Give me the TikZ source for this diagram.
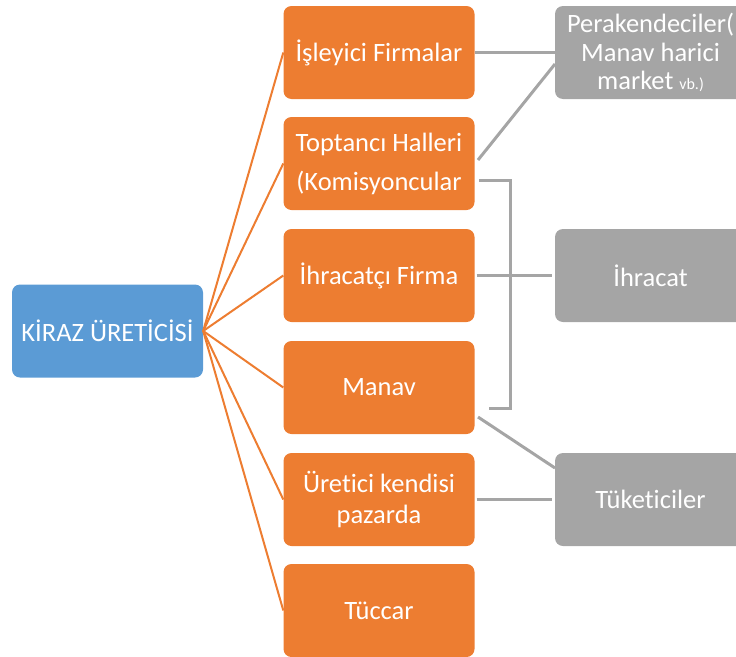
\documentclass[tikz,border=0pt]{standalone}
\usepackage{fontspec}
\setmainfont{Carlito}[Ligatures=NoCommon]
\definecolor{obg}{HTML}{ED7D31}
\definecolor{bbg}{HTML}{5B9BD5}
\definecolor{gbg}{HTML}{A5A5A5}
\begin{document}
\begin{tikzpicture}[x=1pt,y=-1pt,
  basebox/.style={rounded corners=8pt, minimum width=191pt, minimum height=93pt, inner sep=0pt, align=center, text=white, font=\fontsize{26.5}{31}\selectfont},
  obox/.style={basebox, fill=obg},
  bbox/.style={basebox, fill=bbg},
  gboxs/.style={basebox, fill=gbg},
  oline/.style={draw=obg, line width=2pt},
  gline/.style={draw=gbg, line width=3pt}]
\useasboundingbox (0,0) rectangle (736,656);
\clip (0,0) rectangle (736,656);
% boxes
\node[bbox] (kiraz) at (107.5,331) {KİRAZ ÜRETİCİSİ};
\node[obox] (isl) at (379,52.5) {İşleyici Firmalar};
\node[obox, font=\fontsize{26.5}{39}\selectfont] (top) at (379,163.5) {Toptancı Halleri\\(Komisyoncular};
\node[obox] (ihf) at (379,275.5) {İhracatçı Firma};
\node[obox] (man) at (379,387.5) {Manav};
\node[obox] (ure) at (379,499.5) {Üretici kendisi\\pazarda};
\node[obox] (tuc) at (379,610.5) {Tüccar};
\node[gboxs, font=\fontsize{26.5}{28.5}\selectfont] (per) at (650.5,52.5) {Perakendeciler(\\Manav harici\\market {\fontsize{16}{16}\selectfont vb.)}};
\node[gboxs] (ihr) at (650.5,275.5) {İhracat};
\node[gboxs] (tuk) at (650.5,499.5) {Tüketiciler};
% orange connectors
\foreach \n in {isl,top,ihf,man,ure,tuc} \draw[oline] (kiraz.east) -- (\n.west);
% gray connectors
\coordinate (topa) at (478,160);
\coordinate (pera) at (555,64);
\coordinate (br1) at (479,180);
\coordinate (br2) at (510,180);
\coordinate (br3) at (510,408);
\coordinate (br4) at (489,408);
\coordinate (mana) at (478,417);
\coordinate (tuka) at (555,468);
\draw[gline] (isl.east) -- (per.west);
\draw[gline] (topa) -- (pera);
\draw[gline] (br1) -- (br2) -- (br3) -- (br4);
\draw[gline] ([xshift=2pt]ihf.east) -- ([xshift=-3pt]ihr.west);
\draw[gline] (mana) -- (tuka);
\draw[gline] ([xshift=2pt]ure.east) -- ([xshift=-3pt]tuk.west);
\end{tikzpicture}
\end{document}
